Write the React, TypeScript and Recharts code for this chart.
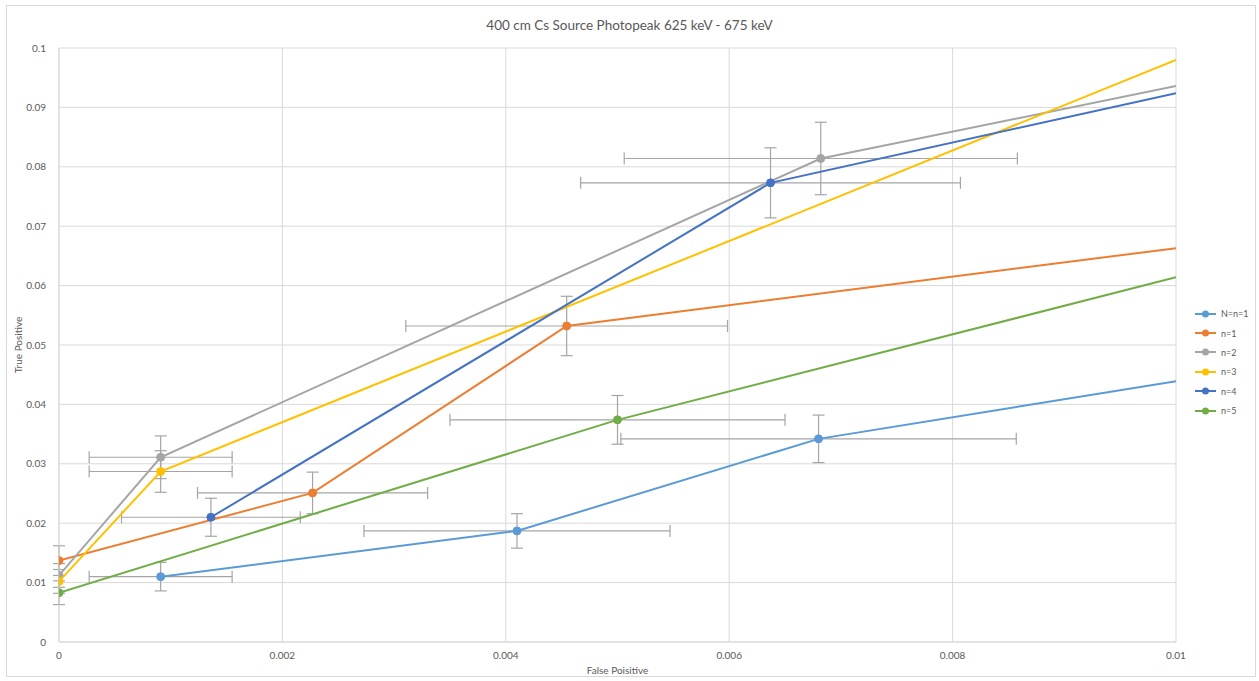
import React from 'react';
import { ScatterChart, Scatter, XAxis, YAxis, CartesianGrid, ErrorBar, Label } from 'recharts';

const TITLE = '400 cm Cs Source Photopeak 625 keV - 675 keV';
const SERIES_NAMES = ['N=n=1', 'n=1', 'n=2', 'n=3', 'n=4', 'n=5'];
const COLORS = ['#5B9BD5', '#ED7D31', '#A5A5A5', '#FFC000', '#4472C4', '#70AD47'];

const X_TICKS = [0, 0.002, 0.004, 0.006, 0.008, 0.01];
const Y_TICKS = [0, 0.01, 0.02, 0.03, 0.04, 0.05, 0.06, 0.07, 0.08, 0.09, 0.1];

// false positive / true positive / error values per series
const fpN1 = [0.00091, 0.0041, 0.0068, 0.01];
const tpN1 = [0.011, 0.0187, 0.0342, 0.0439];
const exN1 = [0.00064, 0.00137, 0.00177, null];
const eyN1 = [0.0024, 0.0029, 0.004, null];

const fp1 = [0, 0.00227, 0.004545, 0.01];
const tp1 = [0.0137, 0.0251, 0.0532, 0.0663];
const ex1 = [null, 0.00103, 0.00144, null];
const ey1 = [0.0025, 0.0035, 0.005, null];

const fp2 = [0, 0.00091, 0.00682, 0.01];
const tp2 = [0.0112, 0.0311, 0.0814, 0.0936];
const ex2 = [null, 0.00064, 0.00176, null];
const ey2 = [0.002, 0.0036, 0.0061, null];

const fp3 = [0, 0.00091, 0.01];
const tp3 = [0.0102, 0.0287, 0.098];
const ex3 = [null, 0.00064, null];
const ey3 = [0.002, 0.0035, null];

const fp4 = [0.00136, 0.00637, 0.01];
const tp4 = [0.021, 0.0773, 0.0924];
const ex4 = [0.0008, 0.0017, null];
const ey4 = [0.0032, 0.0059, null];

const fp5 = [0, 0.005, 0.01];
const tp5 = [0.0083, 0.0374, 0.0614];
const ex5 = [null, 0.0015, null];
const ey5 = [0.002, 0.0041, null];

const build = (fp: number[], tp: number[], ex: (number | null)[], ey: (number | null)[]) =>
  fp.map((x, i) => ({ fp: x, tp: tp[i], ex: ex[i], ey: ey[i] }));

const SERIES = [
  build(fpN1, tpN1, exN1, eyN1),
  build(fp1, tp1, ex1, ey1),
  build(fp2, tp2, ex2, ey2),
  build(fp3, tp3, ex3, ey3),
  build(fp4, tp4, ex4, ey4),
  build(fp5, tp5, ex5, ey5),
];

const FONT = 'Lato, "Open Sans", sans-serif';
const TEXT = '#595959';
const GRID = '#D9D9D9';
const ERR = '#A5A5A5';

const fmt = (v: number) => String(+v.toFixed(4));

// lines run off the right edge, so no marker on the clipped end point
const marker = (color: string) => (props: any) => {
  if (props.payload && props.payload.fp >= 0.01) return <g />;
  return <circle cx={props.cx} cy={props.cy} r={4} fill={color} stroke={color} />;
};

export default function App() {
  return (
    <div style={{ position: 'absolute', left: 0, top: 0, width: 1259, height: 681, background: '#fff', fontFamily: FONT }}>
      <div style={{ position: 'absolute', left: 6, top: 5, width: 1250, height: 672, border: `1px solid ${GRID}`, boxSizing: 'border-box' }} />
      <div style={{ position: 'absolute', left: 0, top: 17, width: 1259, textAlign: 'center', fontSize: 13.5, color: TEXT }}>
        {TITLE}
      </div>
      <ScatterChart width={1259} height={681} margin={{ top: 48, right: 83, bottom: 7, left: 14 }} style={{ position: 'absolute', left: 0, top: 0 }}>
        <CartesianGrid stroke={GRID} />
        <XAxis
          type="number"
          dataKey="fp"
          domain={[0, 0.01]}
          ticks={X_TICKS}
          allowDataOverflow
          tickFormatter={fmt}
          tickLine={false}
          axisLine={{ stroke: GRID }}
          tick={{ fontSize: 10, fill: TEXT, fontFamily: FONT }}
          tickMargin={4}
          height={32}
        >
          <Label value="False Poisitive" position="insideBottom" offset={0} style={{ fontSize: 10, fill: TEXT, fontFamily: FONT }} />
        </XAxis>
        <YAxis
          type="number"
          dataKey="tp"
          domain={[0, 0.1]}
          ticks={Y_TICKS}
          allowDataOverflow
          tickFormatter={fmt}
          tickLine={false}
          axisLine={{ stroke: GRID }}
          tick={{ fontSize: 10, fill: TEXT, fontFamily: FONT }}
          tickMargin={7}
          width={45}
        >
          <Label value="True Positive" angle={-90} position="insideLeft" offset={4} style={{ fontSize: 10, fill: TEXT, fontFamily: FONT, textAnchor: 'middle' }} />
        </YAxis>
        {SERIES.map((data, i) => (
          <Scatter
            key={SERIES_NAMES[i]}
            name={SERIES_NAMES[i]}
            data={data}
            fill={COLORS[i]}
            line={{ stroke: COLORS[i], strokeWidth: 2 }}
            lineType="joint"
            shape={marker(COLORS[i])}
            isAnimationActive={false}
          >
            <ErrorBar dataKey="ex" direction="x" stroke={ERR} strokeWidth={1.2} width={6} isAnimationActive={false} />
            <ErrorBar dataKey="ey" direction="y" stroke={ERR} strokeWidth={1.2} width={6} isAnimationActive={false} />
          </Scatter>
        ))}
      </ScatterChart>
      <div style={{ position: 'absolute', left: 1195, top: 304 }}>
        {SERIES_NAMES.map((name, i) => (
          <div key={name} style={{ display: 'flex', alignItems: 'center', height: 19.4 }}>
            <svg width={22} height={10}>
              <line x1={0} y1={5} x2={21} y2={5} stroke={COLORS[i]} strokeWidth={2} />
              <circle cx={10.5} cy={5} r={3.5} fill={COLORS[i]} />
            </svg>
            <span style={{ fontSize: 9, color: TEXT, marginLeft: 4 }}>{name}</span>
          </div>
        ))}
      </div>
    </div>
  );
}
